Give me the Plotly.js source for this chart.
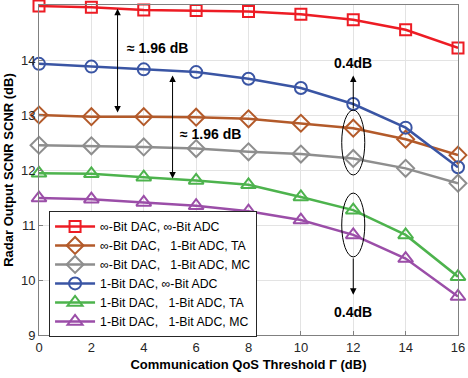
<!DOCTYPE html>
<html>
<head>
<meta charset="utf-8">
<script src="https://cdn.plot.ly/plotly-3.0.1.min.js"></script>
<style>
  body { margin: 0; padding: 0; background: #fff; }
  #chart { width: 468px; height: 378px; }
</style>
</head>
<body>
<div id="chart"></div>
<script>
// QoS threshold (dB)
var qos = [0, 2, 4, 6, 8, 10, 12, 14, 16];

// SCNR values (dB)
var infDacInfAdc   = [14.98, 14.96, 14.91, 14.90, 14.88, 14.83, 14.73, 14.55, 14.22];
var infDac1AdcTA   = [13.00, 12.97, 12.97, 12.96, 12.93, 12.85, 12.76, 12.56, 12.27];
var infDac1AdcMC   = [12.45, 12.44, 12.42, 12.39, 12.33, 12.29, 12.21, 12.03, 11.76];
var oneDacInfAdc   = [13.93, 13.88, 13.83, 13.78, 13.66, 13.49, 13.20, 12.77, 12.05];
var oneDac1AdcTA   = [11.94, 11.93, 11.87, 11.81, 11.73, 11.51, 11.27, 10.82, 10.06];
var oneDac1AdcMC   = [11.49, 11.47, 11.41, 11.35, 11.25, 11.09, 10.82, 10.39, 9.70];

var names = [
  '\u221e-Bit DAC, \u221e-Bit ADC',
  '\u221e-Bit DAC, \u00a0\u00a01-Bit ADC, TA',
  '\u221e-Bit DAC, \u00a0\u00a01-Bit ADC, MC',
  '1-Bit DAC, \u221e-Bit ADC',
  '1-Bit DAC, \u00a0\u00a01-Bit ADC, TA',
  '1-Bit DAC, \u00a0\u00a01-Bit ADC, MC'
];
var series = [infDacInfAdc, infDac1AdcTA, infDac1AdcMC, oneDacInfAdc, oneDac1AdcTA, oneDac1AdcMC];
var colors = ['#ED1C24', '#B35A2A', '#8E8E8E', '#3A55A4', '#4DB34D', '#9B4EA8'];
var symbols = ['square-open', 'diamond-open', 'diamond-open', 'circle-open', 'triangle-up-open', 'triangle-up-open'];
var sizes = [11, 13, 13, 12, 13, 13];

var data = [];
for (var i = 0; i < series.length; i++) {
  data.push({
    x: qos,
    y: series[i],
    type: 'scatter',
    mode: 'lines+markers',
    name: names[i],
    cliponaxis: false,
    line: {color: colors[i], width: 2.5},
    marker: {symbol: symbols[i], size: sizes[i], color: colors[i], line: {color: colors[i], width: 2}}
  });
}

var layout = {
  width: 468,
  height: 378,
  margin: {l: 39, r: 10, t: 5, b: 43},
  paper_bgcolor: '#fff',
  plot_bgcolor: '#fff',
  font: {family: 'Liberation Sans, Arial, sans-serif', size: 13, color: '#262626'},
  showlegend: true,
  legend: {
    x: 0.024, y: 0.376, xanchor: 'left', yanchor: 'top',
    bordercolor: '#262626', borderwidth: 1, bgcolor: '#fff',
    font: {size: 12.3, color: '#000'},
    itemwidth: 40,
    tracegroupgap: 0
  },
  xaxis: {
    range: [0, 16],
    tickvals: [0, 2, 4, 6, 8, 10, 12, 14, 16],
    ticks: 'inside', ticklen: 4, tickcolor: '#808080',
    showline: true, mirror: true, linecolor: '#808080', linewidth: 1,
    showgrid: true, gridcolor: '#e3e3e3', zeroline: false,
    title: {text: '<b>Communication QoS Threshold \u0393 (dB)</b>', font: {size: 13, color: '#000'}, standoff: 6}
  },
  yaxis: {
    range: [9, 15],
    tickvals: [9, 10, 11, 12, 13, 14, 15],
    ticks: 'inside', ticklen: 4, tickcolor: '#808080',
    showline: true, mirror: true, linecolor: '#808080', linewidth: 1,
    showgrid: true, gridcolor: '#e3e3e3', zeroline: false,
    title: {text: '<b>Radar Output SCNR SCNR (dB)</b>', font: {size: 13, color: '#000'}, standoff: 4}
  },
  shapes: [
    // ellipse around upper pair at 12 dB
    {type: 'circle', xref: 'x', yref: 'y', x0: 11.56, x1: 12.44, y0: 11.91, y1: 13.09,
     line: {color: '#000', width: 1}},
    // ellipse around lower pair at 12 dB
    {type: 'circle', xref: 'x', yref: 'y', x0: 11.56, x1: 12.44, y0: 10.42, y1: 11.58,
     line: {color: '#000', width: 1}}
  ],
  annotations: [
    // double arrow red -> brown
    {x: 3, y: 14.93, ax: 3, ay: 13.02, xref: 'x', yref: 'y', axref: 'x', ayref: 'y',
     text: '', showarrow: true, arrowhead: 2, arrowside: 'end+start', arrowsize: 1.3, arrowwidth: 1, arrowcolor: '#000'},
    {x: 3.3, y: 14.22, xref: 'x', yref: 'y', text: '<b>\u2248 1.96 dB</b>', showarrow: false,
     xanchor: 'left', font: {size: 14, color: '#000'}},
    // double arrow blue -> green
    {x: 5.1, y: 13.72, ax: 5.1, ay: 11.82, xref: 'x', yref: 'y', axref: 'x', ayref: 'y',
     text: '', showarrow: true, arrowhead: 2, arrowside: 'end+start', arrowsize: 1.3, arrowwidth: 1, arrowcolor: '#000'},
    {x: 5.3, y: 12.65, xref: 'x', yref: 'y', text: '<b>\u2248 1.96 dB</b>', showarrow: false,
     xanchor: 'left', font: {size: 14, color: '#000'}},
    // upward arrow from upper ellipse
    {x: 12, y: 13.72, ax: 12, ay: 13.09, xref: 'x', yref: 'y', axref: 'x', ayref: 'y',
     text: '', showarrow: true, arrowhead: 2, arrowsize: 1.3, arrowwidth: 1, arrowcolor: '#000'},
    {x: 12, y: 13.95, xref: 'x', yref: 'y', text: '<b>0.4dB</b>', showarrow: false,
     font: {size: 14, color: '#000'}},
    // downward arrow from lower ellipse
    {x: 12, y: 9.73, ax: 12, ay: 10.42, xref: 'x', yref: 'y', axref: 'x', ayref: 'y',
     text: '', showarrow: true, arrowhead: 2, arrowsize: 1.3, arrowwidth: 1, arrowcolor: '#000'},
    {x: 12, y: 9.42, xref: 'x', yref: 'y', text: '<b>0.4dB</b>', showarrow: false,
     font: {size: 14, color: '#000'}}
  ]
};

Plotly.newPlot('chart', data, layout, {displayModeBar: false, staticPlot: true});
</script>
</body>
</html>
